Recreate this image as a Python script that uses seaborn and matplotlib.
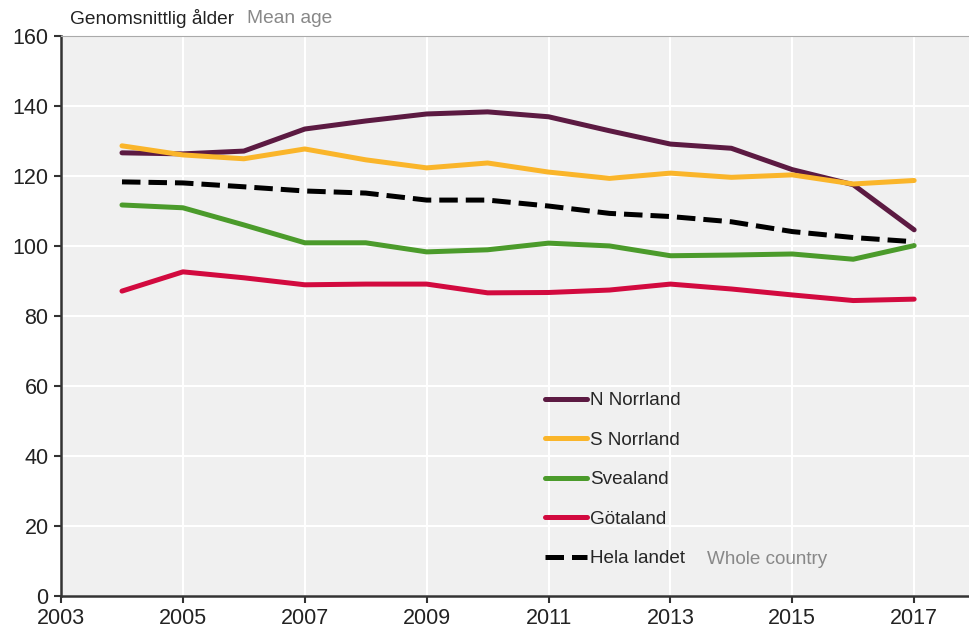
import seaborn as sns
import matplotlib.pyplot as plt
import pandas as pd

years = list(range(2004, 2018))
n_norrland = [126.6, 126.3, 127.1, 133.4, 135.7, 137.7, 138.3, 136.9, 132.9, 129.1, 127.9, 121.8, 117.5, 104.6]
s_norrland = [128.6, 126.0, 124.9, 127.7, 124.6, 122.3, 123.7, 121.1, 119.3, 120.8, 119.6, 120.3, 117.7, 118.7]
svealand = [111.7, 110.9, 106.0, 100.9, 100.9, 98.3, 98.9, 100.8, 100.0, 97.2, 97.4, 97.7, 96.2, 100.1]
gotaland = [87.1, 92.6, 90.9, 88.9, 89.1, 89.1, 86.6, 86.7, 87.4, 89.1, 87.7, 86.0, 84.4, 84.8]
hela_landet = [118.3, 118.0, 116.9, 115.7, 115.1, 113.1, 113.1, 111.4, 109.3, 108.4, 106.9, 104.1, 102.4, 101.2]

series = {
    'N Norrland': n_norrland,
    'S Norrland': s_norrland,
    'Svealand': svealand,
    'Götaland': gotaland,
    'Hela landet': hela_landet,
}
colors = {
    'N Norrland': '#5c1a42',
    'S Norrland': '#fab52a',
    'Svealand': '#4b9b2b',
    'Götaland': '#d20a3f',
    'Hela landet': '#000000',
}

sns.set_style('ticks')
plt.rcParams['font.family'] = ['Liberation Sans', 'DejaVu Sans']

fig = plt.figure(figsize=(9.69, 6.30), dpi=100)
ax = fig.add_axes([0.063, 0.054, 0.937, 0.889])
ax.set_facecolor('#f0f0f0')

for name, vals in series.items():
    df = pd.DataFrame({'year': years, 'value': vals})
    if name == 'Hela landet':
        sns.lineplot(data=df, x='year', y='value', ax=ax, color=colors[name],
                     linewidth=3.6, label=name, linestyle='--', dashes=(3.2, 1.6))
    else:
        sns.lineplot(data=df, x='year', y='value', ax=ax, color=colors[name],
                     linewidth=3.6, label=name)

ax.set_xlim(2003, 2017.9)
ax.set_ylim(0, 160)
ax.set_xticks(range(2003, 2018, 2))
ax.set_yticks(range(0, 161, 20))
ax.grid(True, color='white', linewidth=1.5)
ax.set_axisbelow(True)
ax.set_xlabel('')
ax.set_ylabel('')
ax.tick_params(labelsize=15.5, length=5, width=1.5, color='#333333', labelcolor='#222222', pad=4)
for s in ['left', 'bottom']:
    ax.spines[s].set_color('#333333')
    ax.spines[s].set_linewidth(1.8)
ax.spines['top'].set_color('#aaaaaa')
ax.spines['top'].set_linewidth(0.8)
ax.spines['right'].set_visible(False)

leg = ax.legend(loc='upper left', bbox_to_anchor=(0.533, 0.364), frameon=False,
                fontsize=13.6, handlelength=2.2, handletextpad=0.2,
                labelspacing=1.18, borderpad=0, borderaxespad=0)
ax.text(0.711, 0.066, 'Whole country', transform=ax.transAxes, fontsize=13.6,
        color='#888888', va='center')

fig.text(0.072, 0.970, 'Genomsnittlig ålder', fontsize=13.8, color='#222222', va='center')
fig.text(0.255, 0.970, 'Mean age', fontsize=13.8, color='#888888', va='center')

fig.savefig('out.png', dpi=100)
